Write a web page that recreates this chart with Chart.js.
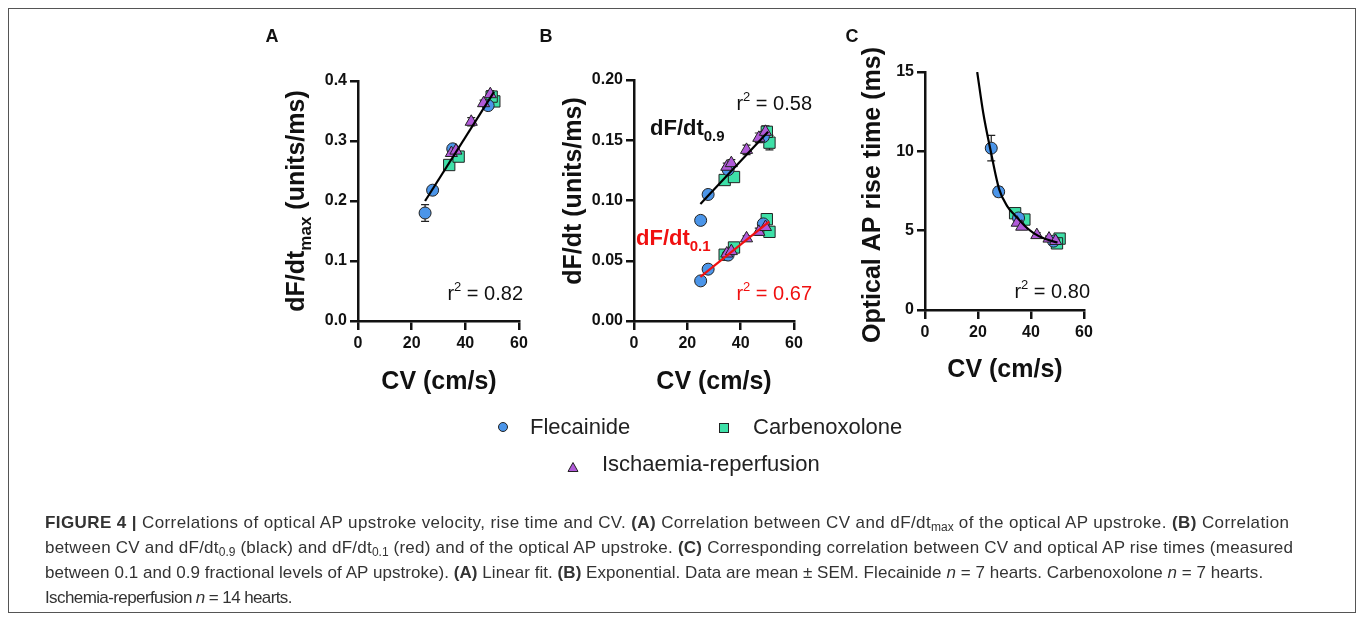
<!DOCTYPE html>
<html>
<head>
<meta charset="utf-8">
<script src="https://cdn.jsdelivr.net/npm/chart.js@4.4.1/dist/chart.umd.min.js"></script>
<style>
    html, body { margin: 0; padding: 0; background: #fff; }
    body { width: 1357px; height: 621px; position: relative; overflow: hidden; font-family: "Liberation Sans", Arial, sans-serif; }
    .frame { position: absolute; left: 8px; top: 8px; width: 1348px; height: 605px; border: 1.5px solid #555; box-sizing: border-box; }
    canvas.panel { position: absolute; left: 0; top: 0; }
    .legend { position: absolute; font-size: 22px; color: #222; line-height: 1; white-space: nowrap; }
    .legend svg { position: absolute; }
    .legend span { position: absolute; white-space: nowrap; }
    .caption { position: absolute; left: 45px; top: 510px; font-size: 17px; line-height: 25px; color: #333; white-space: nowrap; }
    .caption sub { font-size: 12px; line-height: 0; vertical-align: -3px; letter-spacing: 0; }
</style>
</head>
<body>
<div class="frame"></div>
<canvas id="panelA" class="panel" width="1357" height="621"></canvas>
<canvas id="panelB" class="panel" width="1357" height="621"></canvas>
<canvas id="panelC" class="panel" width="1357" height="621"></canvas>

<div class="legend" style="left:0;top:0;">
    <svg style="left:497px;top:421px" width="12" height="12"><circle cx="6" cy="6" r="4.5" fill="#4b95e9" stroke="#222" stroke-width="1"/></svg>
    <span style="left:530px;top:416px">Flecainide</span>
    <svg style="left:718px;top:422px" width="12" height="12"><rect x="1.5" y="1.5" width="9" height="9" fill="#3ee0a8" stroke="#222" stroke-width="1"/></svg>
    <span style="left:753px;top:416px">Carbenoxolone</span>
    <svg style="left:567px;top:461px" width="12" height="12"><polygon points="6,1.5 11,10.5 1,10.5" fill="#b05ad8" stroke="#222" stroke-width="1"/></svg>
    <span style="left:602px;top:453px">Ischaemia-reperfusion</span>
</div>

<div class="caption">
<span style="letter-spacing:0.4px"><b>FIGURE 4 |</b> Correlations of optical AP upstroke velocity, rise time and CV. <b>(A)</b> Correlation between CV and dF/dt<sub>max</sub> of the optical AP upstroke. <b>(B)</b> Correlation</span><br>
<span style="letter-spacing:0.23px">between CV and dF/dt<sub>0.9</sub> (black) and dF/dt<sub>0.1</sub> (red) and of the optical AP upstroke. <b>(C)</b> Corresponding correlation between CV and optical AP rise times (measured</span><br>
<span style="letter-spacing:0.05px">between 0.1 and 0.9 fractional levels of AP upstroke). <b>(A)</b> Linear fit. <b>(B)</b> Exponential. Data are mean ± SEM. Flecainide <i>n</i> = 7 hearts. Carbenoxolone <i>n</i> = 7 hearts.</span><br>
<span style="letter-spacing:-0.6px">Ischemia-reperfusion <i>n</i> = 14 hearts.</span>
</div>

<script>
// Conduction velocity (cm/s) per group
const cvFlec = [25, 27.8, 35.3, 48.5];
const cvCarb = [34, 37.5, 50.8, 49.8];
const cvIsch = [34.8, 36.5, 42.2, 46.8, 49.3];

// Panel A: dF/dt max (units/ms)
const dfMaxFlec = [0.180, 0.218, 0.287, 0.359];
const dfMaxCarb = [0.260, 0.274, 0.366, 0.374];
const dfMaxIsch = [0.280, 0.284, 0.332, 0.363, 0.378];
const dfMaxErrFlec = [0.014, 0.004, 0.004, 0.004];
const dfMaxErrCarb = [0.004, 0.004, 0.006, 0.005];
const dfMaxErrIsch = [0.003, 0.003, 0.007, 0.005, 0.006];

// Panel B: dF/dt 0.9 and 0.1 (units/ms)
const df09Flec = [0.0835, 0.105, 0.1256, 0.153];
const df09Carb = [0.117, 0.1195, 0.148, 0.157];
const df09Isch = [0.128, 0.131, 0.142, 0.152, 0.157];
const df09ErrFlec = [0.003, 0.002, 0.003, 0.004];
const df09ErrCarb = [0.002, 0.003, 0.006, 0.004];
const df09ErrIsch = [0.003, 0.003, 0.004, 0.004, 0.005];
const df01Flec = [0.0333, 0.043, 0.0547, 0.0806];
const df01Carb = [0.055, 0.061, 0.074, 0.0845];
const df01Isch = [0.056, 0.058, 0.0686, 0.074, 0.078];
const df01ErrFlec = [0.002, 0.002, 0.002, 0.003];
const df01ErrCarb = [0.002, 0.002, 0.003, 0.003];
const df01ErrIsch = [0.002, 0.002, 0.002, 0.003, 0.003];

// Panel C: optical AP rise time (ms)
const riseFlec = [10.2, 7.45, 5.8, 4.34];
const riseCarb = [6.1, 5.7, 4.5, 4.2];
const riseIsch = [5.5, 5.25, 4.72, 4.5, 4.35];
const riseErrFlec = [0.8, 0.3, 0.2, 0.15];
const riseErrCarb = [0.2, 0.2, 0.15, 0.15];
const riseErrIsch = [0.15, 0.15, 0.15, 0.15, 0.15];

// Fits
const fitAX = [25, 50.7];
const fitAY = [0.200, 0.382];
const fit09X = [24.9, 50.3];
const fit09Y = [0.097, 0.157];
const fit01X = [24.9, 50.7];
const fit01Y = [0.0367, 0.0825];
const fitCX = [19.7, 22, 24.7, 28, 31, 34.6, 38, 41, 45, 50];
const fitCY = [15, 12.4, 10.1, 7.6, 6.55, 5.85, 5.25, 4.85, 4.5, 4.25];

// Axis ticks
const cvTicks = [0, 20, 40, 60];
const yTicksA = [0, 0.1, 0.2, 0.3, 0.4];
const yTicksB = [0, 0.05, 0.10, 0.15, 0.20];
const yTicksC = [0, 5, 10, 15];

const W = 1357, H = 621, Y_W = 60, X_H = 50;
const FONT = '"Liberation Sans", Arial, sans-serif';
const BLUE = '#4b95e9', GREEN = '#3ee0a8', PURPLE = '#b05ad8';

const pts = (xs, ys) => xs.map((x, i) => ({ x, y: ys[i] }));

function group(xs, ys, errs, color, style, radius) {
    return {
        data: pts(xs, ys), errY: errs,
        pointStyle: style, pointRadius: radius,
        backgroundColor: color, borderColor: '#222', borderWidth: 1
    };
}

function fitLine(xs, ys, color, smooth) {
    return {
        data: pts(xs, ys), showLine: true, pointRadius: 0,
        borderColor: color, borderWidth: 2.2, fill: false,
        cubicInterpolationMode: smooth ? 'monotone' : 'default'
    };
}

// Vertical SEM bars under the markers
const errorBars = {
    id: 'errorBars',
    beforeDatasetsDraw(chart) {
        const { ctx, scales: { x, y } } = chart;
        ctx.save();
        ctx.strokeStyle = '#222';
        ctx.lineWidth = 1.2;
        chart.data.datasets.forEach(ds => {
            if (!ds.errY) return;
            ds.data.forEach((p, i) => {
                const px = x.getPixelForValue(p.x);
                const top = y.getPixelForValue(p.y + ds.errY[i]);
                const bot = y.getPixelForValue(p.y - ds.errY[i]);
                ctx.beginPath();
                ctx.moveTo(px, top); ctx.lineTo(px, bot);
                ctx.moveTo(px - 4, top); ctx.lineTo(px + 4, top);
                ctx.moveTo(px - 4, bot); ctx.lineTo(px + 4, bot);
                ctx.stroke();
            });
        });
        ctx.restore();
    }
};

// Rich text: parts of {t, size, bold, dy}
function drawRich(ctx, item) {
    const parts = item.parts;
    ctx.save();
    ctx.translate(item.x, item.y);
    if (item.rotate) ctx.rotate(-Math.PI / 2);
    ctx.fillStyle = item.color || '#111';
    ctx.textBaseline = 'alphabetic';
    ctx.textAlign = 'left';
    const fontOf = p => `${p.bold ? 'bold ' : ''}${p.size}px ${FONT}`;
    let total = 0;
    parts.forEach(p => { ctx.font = fontOf(p); total += ctx.measureText(p.t).width; });
    let cx = item.align === 'right' ? -total : item.align === 'left' ? 0 : -total / 2;
    parts.forEach(p => {
        ctx.font = fontOf(p);
        ctx.fillText(p.t, cx, p.dy || 0);
        cx += ctx.measureText(p.t).width;
    });
    ctx.restore();
}

function textPlugin(items) {
    return { id: 'texts', afterDraw(chart) { items.forEach(it => drawRich(chart.ctx, it)); } };
}

const B25 = t => ({ t, size: 25, bold: true });
const rSq = v => [{ t: 'r', size: 20 }, { t: '2', size: 13, dy: -9 }, { t: ' = ' + v, size: 20 }];

function axis(min, max, list, decimals, pos) {
    return {
        type: 'linear', position: pos, min, max,
        afterBuildTicks(s) { s.ticks = list.map(v => ({ value: v })); },
        afterFit(s) { if (pos === 'left') s.width = Y_W; else s.height = X_H; },
        border: { display: true, color: '#111', width: 2.5 },
        grid: { drawOnChartArea: false, drawTicks: true, tickLength: pos === 'left' ? 8 : 9, color: '#111', lineWidth: 2.5 },
        ticks: {
            color: '#111', padding: pos === 'left' ? 3 : 4,
            font: { family: FONT, size: 16, weight: 'bold' },
            callback: v => Number(v).toFixed(decimals)
        }
    };
}

function panel(id, area, yAxis, datasets, texts) {
    new Chart(document.getElementById(id), {
        type: 'scatter',
        data: { datasets },
        options: {
            responsive: false, animation: false, events: [],
            layout: { padding: { left: area.left - Y_W, right: W - area.right, top: area.top, bottom: H - area.bottom - X_H } },
            plugins: { legend: { display: false }, tooltip: { enabled: false } },
            scales: { x: axis(0, 60, cvTicks, 0, 'bottom'), y: yAxis }
        },
        plugins: [errorBars, textPlugin(texts)]
    });
}

const R_CIRC = 6, R_RECT = 8, R_TRI = 7;

panel('panelA', { left: 358, right: 519, top: 81, bottom: 321 },
    axis(0, 0.4, yTicksA, 1, 'left'),
    [
        fitLine(fitAX, fitAY, '#000'),
        group(cvIsch, dfMaxIsch, dfMaxErrIsch, PURPLE, 'triangle', R_TRI),
        group(cvFlec, dfMaxFlec, dfMaxErrFlec, BLUE, 'circle', R_CIRC),
        group(cvCarb, dfMaxCarb, dfMaxErrCarb, GREEN, 'rect', R_RECT)
    ],
    [
        { x: 272, y: 42, parts: [{ t: 'A', size: 18, bold: true }] },
        { x: 304, y: 201, rotate: true, parts: [B25('dF/dt'), { t: 'max', size: 17, bold: true, dy: 7 }, B25(' (units/ms)')] },
        { x: 439, y: 389, parts: [B25('CV (cm/s)')] },
        { x: 523, y: 300, align: 'right', parts: rSq('0.82') }
    ]);

panel('panelB', { left: 634, right: 794, top: 80, bottom: 321 },
    axis(0, 0.2, yTicksB, 2, 'left'),
    [
        fitLine(fit09X, fit09Y, '#000'),
        fitLine(fit01X, fit01Y, '#f01010'),
        group(cvIsch, df09Isch, df09ErrIsch, PURPLE, 'triangle', R_TRI),
        group(cvIsch, df01Isch, df01ErrIsch, PURPLE, 'triangle', R_TRI),
        group(cvFlec, df09Flec, df09ErrFlec, BLUE, 'circle', R_CIRC),
        group(cvFlec, df01Flec, df01ErrFlec, BLUE, 'circle', R_CIRC),
        group(cvCarb, df09Carb, df09ErrCarb, GREEN, 'rect', R_RECT),
        group(cvCarb, df01Carb, df01ErrCarb, GREEN, 'rect', R_RECT)
    ],
    [
        { x: 546, y: 42, parts: [{ t: 'B', size: 18, bold: true }] },
        { x: 581, y: 191, rotate: true, parts: [B25('dF/dt (units/ms)')] },
        { x: 714, y: 389, parts: [B25('CV (cm/s)')] },
        { x: 812, y: 110, align: 'right', parts: rSq('0.58') },
        { x: 650, y: 135, align: 'left', parts: [{ t: 'dF/dt', size: 22, bold: true }, { t: '0.9', size: 15, bold: true, dy: 6 }] },
        { x: 636, y: 245, align: 'left', color: '#f01010', parts: [{ t: 'dF/dt', size: 22, bold: true }, { t: '0.1', size: 15, bold: true, dy: 6 }] },
        { x: 812, y: 300, align: 'right', color: '#f01010', parts: rSq('0.67') }
    ]);

panel('panelC', { left: 925, right: 1084, top: 72, bottom: 310 },
    axis(0, 15, yTicksC, 0, 'left'),
    [
        fitLine(fitCX, fitCY, '#000', true),
        group(cvIsch, riseIsch, riseErrIsch, PURPLE, 'triangle', R_TRI),
        group(cvFlec, riseFlec, riseErrFlec, BLUE, 'circle', R_CIRC),
        group(cvCarb, riseCarb, riseErrCarb, GREEN, 'rect', R_RECT)
    ],
    [
        { x: 852, y: 42, parts: [{ t: 'C', size: 18, bold: true }] },
        { x: 880, y: 195, rotate: true, parts: [B25('Optical AP rise time (ms)')] },
        { x: 1005, y: 377, parts: [B25('CV (cm/s)')] },
        { x: 1090, y: 298, align: 'right', parts: rSq('0.80') }
    ]);
</script>
</body>
</html>
